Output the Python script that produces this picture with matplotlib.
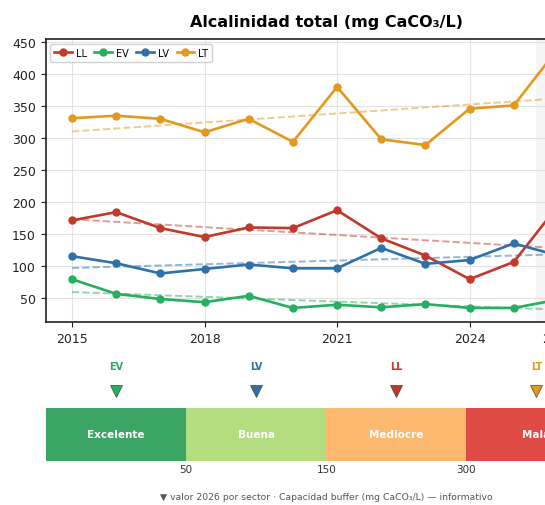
import matplotlib
matplotlib.use('Agg')
import matplotlib.pyplot as plt
import numpy as np

# datos
years = [2015, 2016, 2017, 2018, 2019, 2020, 2021, 2022, 2023, 2024, 2025, 2026]
sectors = ['LL', 'EV', 'LV', 'LT']
ll = [171, 184, 159, 145, 160, 159, 187, 143, 116, 79, 106, 194]
ev = [79, 56, 48, 43, 53, 34, 39, 35, 40, 34, 34, 47]
lv = [115, 104, 88, 95, 102, 96, 96, 128, 103, 109, 135, 116]
lt = [331, 335, 330, 309, 330, 294, 380, 298, 289, 346, 351, 440]
series = [ll, ev, lv, lt]
colors = ['#c0392b', '#27ae60', '#2e71a8', '#e3981e']

# escala de calidad
class_labels = ['Excelente', 'Buena', 'Mediocre', 'Mala']
class_bounds = [50, 150, 300]
class_colors = ['#3aa564', '#b3dd7e', '#fdb96f', '#df4b44']

W, H = 545, 506
fig = plt.figure(figsize=(W / 100, H / 100), dpi=100)

# panel superior (se sale del lienzo por la derecha, como en el original)
ax = fig.add_axes([45.5 / W, (H - 323) / H, 539 / W, 283 / H])
ax.axvspan(2025.5, 2026.5, color='#888888', alpha=0.08, lw=0)
x = np.array(years)
for name, vals, c in zip(sectors, series, colors):
    ax.plot(x, vals, '-o', color=c, lw=1.9, ms=5, label=name, zorder=3)
    p = np.polyfit(x, vals, 1)
    ax.plot(x, np.polyval(p, x), '--', color=c, lw=1.4, alpha=0.5, zorder=2)

ax.set_xlim(2014.4, 2026.6)
ax.set_ylim(12, 455)
ax.set_xticks([2015, 2018, 2021, 2024, 2026])
ax.set_yticks(range(50, 451, 50))
ax.tick_params(labelsize=9, colors='#222222')
ax.grid(True, color='#dddddd', lw=0.8, alpha=0.8)
for s in ax.spines.values():
    s.set_color('#222222')
    s.set_linewidth(1.2)
ax.legend(loc='upper left', ncol=4, fontsize=7, handlelength=1.8,
          columnspacing=0.8, handletextpad=0.4, borderpad=0.4,
          frameon=True, framealpha=0.9, edgecolor='#cccccc')

fig.text(326 / W, 1 - 23 / H, 'Alcalinidad total (mg CaCO₃/L)', ha='center',
         va='center', fontsize=11.5, fontweight='bold')

# barra de categorias
bx = fig.add_axes([46 / W, (H - 461.7) / H, 560.5 / W, 52.4 / H])
for i, (lab, c) in enumerate(zip(class_labels, class_colors)):
    bx.barh(0.5, 1, left=i, height=1, color=c, edgecolor='none')
    bx.text(i + 0.5, 0.5, lab, ha='center', va='center', color='white',
            fontsize=7.5, fontweight='bold')
for i, b in enumerate(class_bounds):
    bx.text(i + 1, -0.06, str(b), ha='center', va='top', fontsize=7.5,
            color='#333333', clip_on=False)

# marcador del ultimo valor de cada sector
for name, vals, c in zip(sectors, series, colors):
    seg = int(np.searchsorted(class_bounds, vals[-1]))
    bx.plot(seg + 0.5, 1.33, 'v', color=c, ms=8.5, mec='#444444', mew=0.5,
            clip_on=False)
    bx.text(seg + 0.5, 1.81, name, ha='center', va='center', color=c,
            fontsize=7, fontweight='bold', clip_on=False)

bx.set_xlim(0, 4)
bx.set_ylim(0, 1)
bx.axis('off')

fig.text(326 / W, 1 - 498 / H,
         '▼ valor 2026 por sector · Capacidad buffer (mg CaCO₃/L) — informativo',
         ha='center', va='center', fontsize=6.7, color='#555555')

fig.savefig('out.png', dpi=100)
